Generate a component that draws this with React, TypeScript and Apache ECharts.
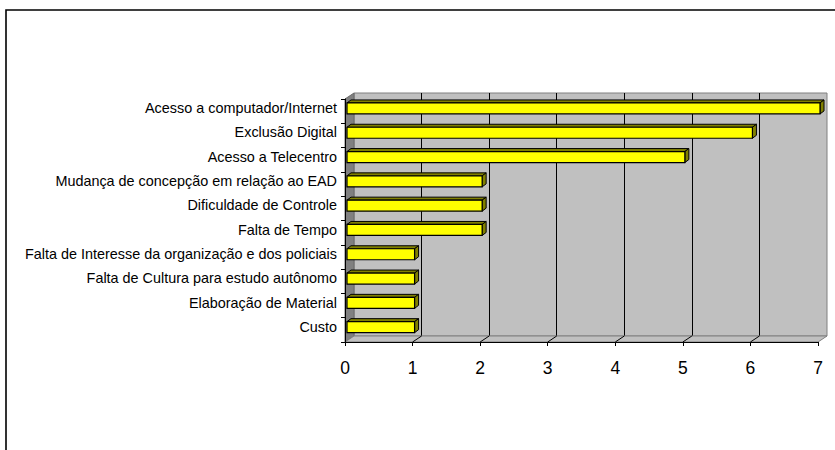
import React, { useEffect, useRef } from "react";
import * as echarts from "echarts";

const categories = [
  "Acesso a computador/Internet",
  "Exclusão Digital",
  "Acesso a Telecentro",
  "Mudança de concepção em relação ao EAD",
  "Dificuldade de Controle",
  "Falta de Tempo",
  "Falta de Interesse da organização e dos policiais",
  "Falta de Cultura para estudo autônomo",
  "Elaboração de Material",
  "Custo",
];
const values = [7, 6, 5, 2, 2, 2, 1, 1, 1, 1];
const xMin = 0;
const xMax = 7;
const xInterval = 1;

const FONT = "Liberation Sans, Arial, sans-serif";
const DX = 9;
const DY = -6;

export default function App() {
  const ref = useRef<HTMLDivElement>(null);
  useEffect(() => {
    if (!ref.current) return;
    const chart = echarts.init(ref.current, null, { renderer: "svg" });
    const n = categories.length;
    const ticks: number[] = [];
    for (let v = xMin; v <= xMax; v += xInterval) ticks.push(v);

    const option: any = {
      animation: false,
      backgroundColor: "#ffffff",
      textStyle: { fontFamily: FONT },
      graphic: [
        {
          type: "rect",
          z: -10,
          shape: { x: 6, y: 10, width: 900, height: 500 },
          style: { fill: "none", stroke: "#000", lineWidth: 1.6 },
        },
      ],
      grid: [
        {
          left: 354,
          top: 93,
          width: 473,
          height: 243,
          show: true,
          backgroundColor: "#C0C0C0",
          borderColor: "#808080",
          borderWidth: 1,
        },
        { left: 345, top: 99, width: 473, height: 243 },
      ],
      xAxis: [
        {
          gridIndex: 0,
          type: "value",
          min: xMin,
          max: xMax,
          interval: xInterval,
          axisLabel: { show: false },
          axisLine: { show: false },
          axisTick: { show: false },
          splitLine: {
            show: true,
            showMinLine: false,
            showMaxLine: false,
            lineStyle: { color: "#000", width: 1 },
          },
        },
        {
          gridIndex: 1,
          type: "value",
          min: xMin,
          max: xMax,
          interval: xInterval,
          z: 10,
          axisLine: { show: true, lineStyle: { color: "#000", width: 1 } },
          axisTick: { show: true, length: 4, lineStyle: { color: "#000" } },
          axisLabel: { color: "#000", fontSize: 17.5, margin: 17, fontFamily: FONT },
          splitLine: { show: false },
        },
      ],
      yAxis: [
        {
          gridIndex: 0,
          type: "category",
          inverse: true,
          data: categories,
          show: false,
        },
        {
          gridIndex: 1,
          type: "category",
          inverse: true,
          data: categories,
          z: 10,
          axisLine: { show: true, lineStyle: { color: "#000", width: 1 } },
          axisTick: { show: true, length: 4, lineStyle: { color: "#000" } },
          axisLabel: {
            color: "#000",
            fontSize: 14.4,
            margin: 8,
            fontFamily: FONT,
            verticalAlign: "bottom",
            lineHeight: 6,
          },
          splitLine: { show: false },
        },
      ],
      series: [
        {
          type: "custom",
          xAxisIndex: 1,
          yAxisIndex: 1,
          z: 1,
          silent: true,
          data: [[0, 0]],
          renderItem: (params: any, api: any) => {
            const bandH = api.size([0, 1])[1];
            const top = api.coord([xMin, 0])[1] - bandH / 2;
            const bottom = api.coord([xMin, n - 1])[1] + bandH / 2;
            const x0 = api.coord([xMin, 0])[0];
            const x7 = api.coord([xMax, 0])[0];
            const children: any[] = [
              {
                type: "polygon",
                shape: {
                  points: [
                    [x0, top],
                    [x0 + DX, top + DY],
                    [x0 + DX, bottom + DY],
                    [x0, bottom],
                  ],
                },
                style: { fill: "#808080", stroke: "#6a6a6a", lineWidth: 1 },
              },
              {
                type: "polygon",
                shape: {
                  points: [
                    [x0, bottom],
                    [x7, bottom],
                    [x7 + DX, bottom + DY],
                    [x0 + DX, bottom + DY],
                  ],
                },
                style: { fill: "#C0C0C0", stroke: "#808080", lineWidth: 1 },
              },
            ];
            ticks.forEach((t) => {
              if (t === xMin || t === xMax) return;
              const x = api.coord([t, 0])[0];
              children.push({
                type: "line",
                shape: { x1: x, y1: bottom, x2: x + DX, y2: bottom + DY },
                style: { stroke: "#000", lineWidth: 1 },
              });
            });
            return { type: "group", children };
          },
        },
        {
          type: "custom",
          xAxisIndex: 1,
          yAxisIndex: 1,
          z: 3,
          data: values.map((v, i) => [v, i]),
          encode: { x: 0, y: 1 },
          renderItem: (params: any, api: any) => {
            const v = api.value(0);
            const i = api.value(1);
            const p0 = api.coord([xMin, i]);
            const p1 = api.coord([v, i]);
            const h = 11;
            const dx = 4;
            const dy = -3;
            const bx0 = p0[0] + 2;
            const bx1 = p1[0] + 2;
            const y0 = p0[1] - 2.7 - h / 2;
            return {
              type: "group",
              children: [
                {
                  type: "polygon",
                  shape: {
                    points: [
                      [bx0, y0],
                      [bx1, y0],
                      [bx1 + dx, y0 + dy],
                      [bx0 + dx, y0 + dy],
                    ],
                  },
                  style: { fill: "#808000", stroke: "#000", lineWidth: 1 },
                },
                {
                  type: "polygon",
                  shape: {
                    points: [
                      [bx1, y0],
                      [bx1 + dx, y0 + dy],
                      [bx1 + dx, y0 + h + dy],
                      [bx1, y0 + h],
                    ],
                  },
                  style: { fill: "#808000", stroke: "#000", lineWidth: 1 },
                },
                {
                  type: "rect",
                  shape: { x: bx0, y: y0, width: bx1 - bx0, height: h },
                  style: { fill: "#FFFF00", stroke: "#000", lineWidth: 1.2 },
                },
              ],
            };
          },
        },
      ],
    };
    chart.setOption(option);
    return () => chart.dispose();
  }, []);
  return (
    <div
      ref={ref}
      style={{ position: "fixed", left: 0, top: 0, width: 835, height: 450 }}
    />
  );
}
